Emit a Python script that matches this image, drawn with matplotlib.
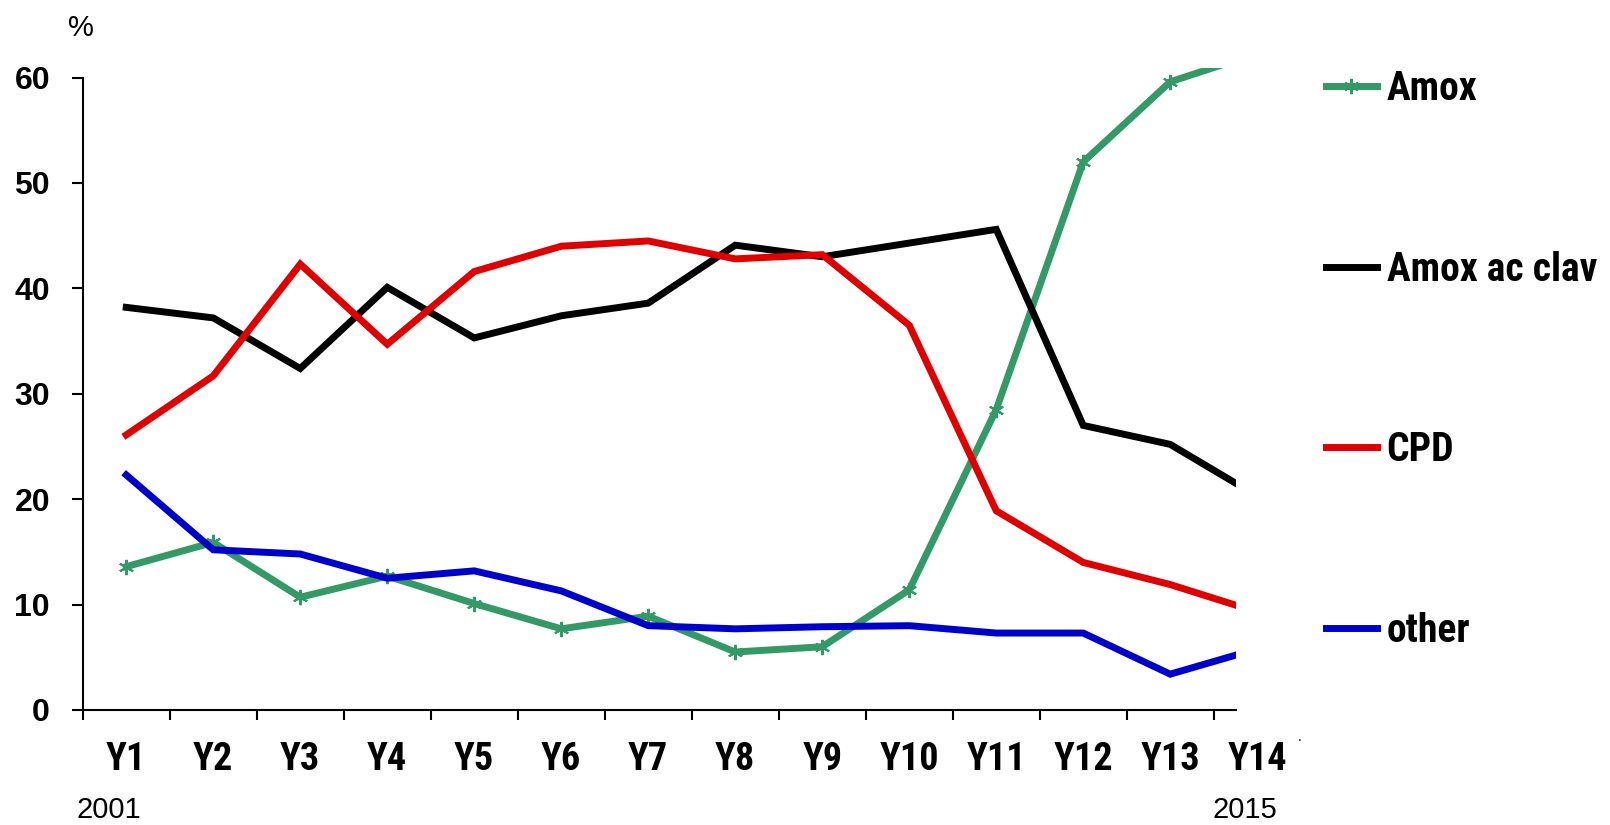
import matplotlib
matplotlib.use("Agg")
import matplotlib.pyplot as plt
from matplotlib import font_manager

categories = ["Y1", "Y2", "Y3", "Y4", "Y5", "Y6", "Y7", "Y8", "Y9", "Y10", "Y11", "Y12", "Y13", "Y14"]
amox = [13.6, 15.9, 10.7, 12.7, 10.1, 7.7, 8.9, 5.5, 6.0, 11.4, 28.5, 52.0, 59.6, 62.3]
amox_clav = [38.2, 37.2, 32.4, 40.1, 35.3, 37.4, 38.6, 44.1, 43.0, 44.3, 45.6, 27.0, 25.2, 20.3]
cpd = [26.1, 31.7, 42.3, 34.7, 41.6, 44.0, 44.5, 42.8, 43.2, 36.5, 18.9, 14.0, 11.9, 9.3]
other = [22.3, 15.2, 14.8, 12.5, 13.2, 11.3, 8.0, 7.7, 7.9, 8.0, 7.3, 7.3, 3.4, 5.8]
series_names = ["Amox", "Amox ac clav", "CPD", "other"]
yticks = [0, 10, 20, 30, 40, 50, 60]
year_labels = ["2001", "2015"]

# pick an installed narrow bold font (Arial Narrow look-alike)
bold_fonts = {}
for f in font_manager.fontManager.ttflist:
    w = f.weight if isinstance(f.weight, int) else (700 if str(f.weight) == "bold" else 400)
    if f.style == "normal" and w >= 700:
        bold_fonts.setdefault(f.name, f.fname)
narrow_fp = None
for cand in ["Liberation Sans Narrow", "Arial Narrow", "Roboto Condensed", "PT Sans Narrow",
             "Open Sans Condensed", "Asap Condensed", "Barlow Semi Condensed"]:
    if cand in bold_fonts:
        narrow_fp = bold_fonts[cand]
        break


def narrow_prop(size):
    if narrow_fp:
        return font_manager.FontProperties(fname=narrow_fp, size=size)
    return font_manager.FontProperties(family="Liberation Sans", weight="bold", size=size)


fig = plt.figure(figsize=(16.1, 8.25), dpi=100)
ax = fig.add_axes([0.0514, 0.1394, 0.7163, 0.7787])

x = list(range(len(categories)))
lw = 5.0
ax.plot(x, amox, color="#339966", lw=lw, marker=(6, 2, 0), markersize=11,
        markeredgewidth=1.5, markeredgecolor="#339966", label=series_names[0], solid_joinstyle="miter")
ax.plot(x, amox_clav, color="#000000", lw=lw, label=series_names[1], solid_joinstyle="miter")
ax.plot(x, cpd, color="#E00000", lw=lw, label=series_names[2], solid_joinstyle="miter")
ax.plot(x, other, color="#0000CC", lw=lw, label=series_names[3], solid_joinstyle="miter")

ax.set_xlim(-0.5, 12.756)
ax.set_ylim(0, 60.95)

for s in ["top", "right"]:
    ax.spines[s].set_visible(False)
ax.spines["left"].set_bounds(0, 60)
ax.spines["left"].set_linewidth(1.5)
ax.spines["bottom"].set_linewidth(1.5)

ax.set_yticks(yticks)
ax.set_yticklabels([str(v) for v in yticks], fontsize=23, fontweight="bold",
                   family=["Liberation Sans", "DejaVu Sans"])
ax.tick_params(axis="y", direction="out", length=8, width=1.5, pad=15.5)

ax.set_xticks([i - 0.5 for i in x])
ax.set_xticklabels([])
ax.tick_params(axis="x", direction="out", length=7.2, width=1.5)

xt = ax.get_xaxis_transform()
for i, c in enumerate(categories):
    ax.text(i, -0.0763, c, transform=xt, ha="center", va="center",
            fontproperties=narrow_prop(27.5), clip_on=False)

ax.text(-0.2, -0.1557, year_labels[0], transform=xt, ha="center", va="center", fontsize=21,
        family=["Liberation Sans", "DejaVu Sans"], clip_on=False)
ax.text(12.86, -0.1557, year_labels[1], transform=xt, ha="center", va="center", fontsize=21,
        family=["Liberation Sans", "DejaVu Sans"], clip_on=False)

fig.text(81 / 1610, 1 - 28 / 825, "%", ha="center", va="center", fontsize=21,
         family=["Liberation Sans", "DejaVu Sans"])
fig.text(1300 / 1610, 1 - 737 / 825, ".", ha="center", va="center", fontsize=10,
         family=["Liberation Sans", "DejaVu Sans"])

leg = ax.legend(loc="center left", bbox_to_anchor=(1326 / 1610, 1 - 360 / 825),
                bbox_transform=fig.transFigure, frameon=False, borderpad=0,
                borderaxespad=0, handlelength=1.28, handletextpad=0.25,
                labelspacing=3.6, prop=narrow_prop(28.5))

fig.savefig("out.png", dpi=100)
